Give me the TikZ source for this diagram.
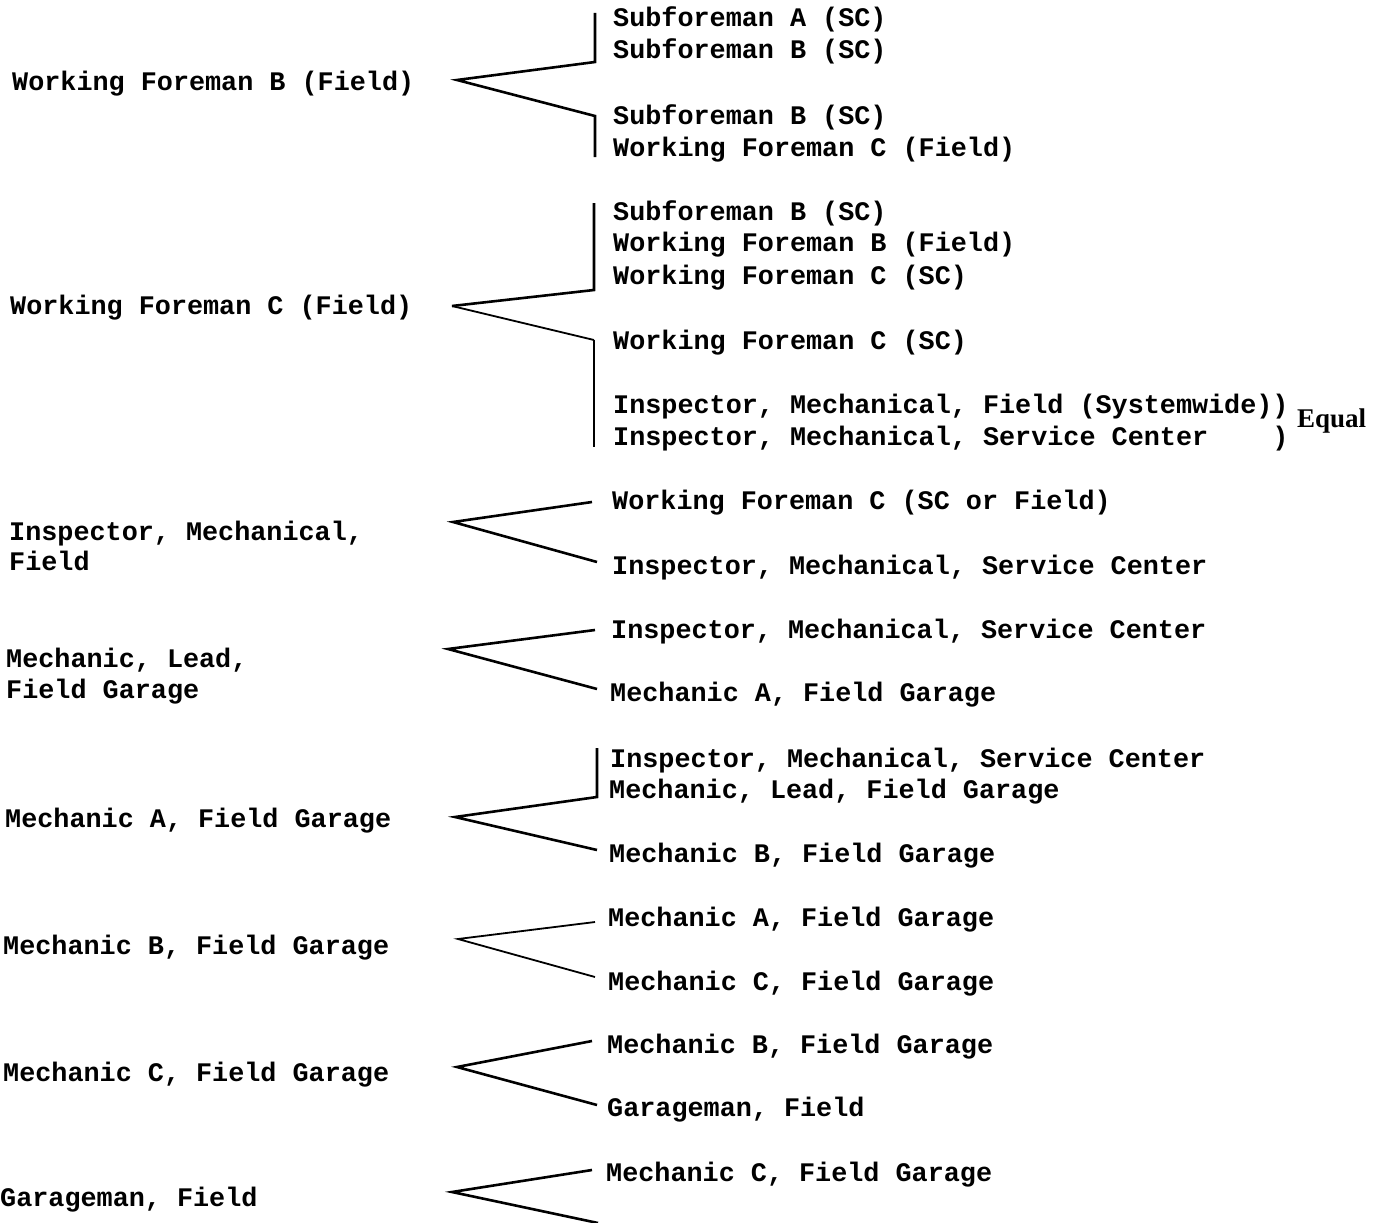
\documentclass[tikz,border=0pt]{standalone}
\usepackage{fontspec}
\newfontfamily\tw[WordSpace={1,0,0}]{Liberation Mono}
\newfontfamily\eqf{Liberation Serif}
\tikzset{
  lbl/.style={anchor=base west,inner sep=0pt,font=\tw\bfseries\fontsize{26.8}{31}\selectfont},
  small/.style={anchor=base west,inner sep=0pt,font=\eqf\bfseries\fontsize{27}{31}\selectfont},
  conn/.style={line width=2.6pt,line join=miter,line cap=butt},
  thin/.style={line width=1.8pt,line join=miter,line cap=butt}
}
\begin{document}
\begin{tikzpicture}[x=1pt,y=-1pt]
\useasboundingbox (0,0) rectangle (1392,1223);
% ---------- left labels ----------
\node[lbl] (L1) at (12,90) {Working Foreman B (Field)};
\node[lbl] (L2) at (10,314) {Working Foreman C (Field)};
\node[lbl] (L3a) at (9,540) {Inspector, Mechanical,};
\node[lbl] (L3b) at (9,570) {Field};
\node[lbl] (L4a) at (6,667) {Mechanic, Lead,};
\node[lbl] (L4b) at (6,698) {Field Garage};
\node[lbl] (L5) at (5,827) {Mechanic A, Field Garage};
\node[lbl] (L6) at (3,954) {Mechanic B, Field Garage};
\node[lbl] (L7) at (3,1081) {Mechanic C, Field Garage};
\node[lbl] (L8) at (0,1206) {Garageman, Field};
% ---------- right labels ----------
\node[lbl] (R1a) at (613,27) {Subforeman A (SC)};
\node[lbl] (R1b) at (613,59) {Subforeman B (SC)};
\node[lbl] (R1c) at (613,124) {Subforeman B (SC)};
\node[lbl] (R1d) at (613,156) {Working Foreman C (Field)};
\node[lbl] (R2a) at (613,220) {Subforeman B (SC)};
\node[lbl] (R2b) at (613,251) {Working Foreman B (Field)};
\node[lbl] (R2c) at (613,284) {Working Foreman C (SC)};
\node[lbl] (R2d) at (613,349) {Working Foreman C (SC)};
\node[lbl] (R2e) at (613,413) {Inspector, Mechanical, Field (Systemwide))};
\node[lbl] (R2f) at (613,445) {Inspector, Mechanical, Service Center\hphantom{xxxx})};
\node[small] (EQ) at (1297,427) {Equal};
\node[lbl] (R3a) at (612,509) {Working Foreman C (SC or Field)};
\node[lbl] (R3b) at (612,574) {Inspector, Mechanical, Service Center};
\node[lbl] (R4a) at (611,638) {Inspector, Mechanical, Service Center};
\node[lbl] (R4b) at (610,701) {Mechanic A, Field Garage};
\node[lbl] (R5a) at (610,767) {Inspector, Mechanical, Service Center};
\node[lbl] (R5b) at (609,798) {Mechanic, Lead, Field Garage};
\node[lbl] (R5c) at (609,862) {Mechanic B, Field Garage};
\node[lbl] (R6a) at (608,926) {Mechanic A, Field Garage};
\node[lbl] (R6b) at (608,990) {Mechanic C, Field Garage};
\node[lbl] (R7a) at (607,1053) {Mechanic B, Field Garage};
\node[lbl] (R7b) at (607,1116) {Garageman, Field};
\node[lbl] (R8a) at (606,1181) {Mechanic C, Field Garage};
% ---------- connector points ----------
\coordinate (A1) at (457,80);  \coordinate (U1) at (595,62);  \coordinate (D1) at (595,116);
\coordinate (T1) at (595,13);  \coordinate (B1) at (595,157);
\coordinate (A2) at (452,306); \coordinate (U2) at (594,290); \coordinate (D2) at (594,340);
\coordinate (T2) at (594,203); \coordinate (B2) at (594,447);
\coordinate (A3) at (453,522); \coordinate (U3) at (592,502); \coordinate (D3) at (597,562);
\coordinate (A4) at (448,649); \coordinate (U4) at (595,630); \coordinate (D4) at (597,689);
\coordinate (A5) at (455,817); \coordinate (U5) at (597,797); \coordinate (D5) at (597,850);
\coordinate (T5) at (597,748);
\coordinate (A6) at (458,939); \coordinate (U6) at (595,922); \coordinate (D6) at (595,977);
\coordinate (A7) at (457,1067); \coordinate (U7) at (592,1041); \coordinate (D7) at (597,1105);
\coordinate (A8) at (452,1192); \coordinate (U8) at (592,1170); \coordinate (D8) at (598,1223);
% ---------- connectors ----------
\draw[conn] (T1) -- (U1) -- (A1) -- (D1) -- (B1);
\draw[conn] (T2) -- (U2) -- (A2);
\draw[thin] (A2) -- (D2);
\draw[conn] (D2) -- (B2);
\draw[conn] (U3) -- (A3) -- (D3);
\draw[conn] (U4) -- (A4) -- (D4);
\draw[conn] (T5) -- (U5) -- (A5) -- (D5);
\draw[thin] (U6) -- (A6) -- (D6);
\draw[conn] (U7) -- (A7) -- (D7);
\draw[conn] (U8) -- (A8) -- (D8);
\end{tikzpicture}
\end{document}
